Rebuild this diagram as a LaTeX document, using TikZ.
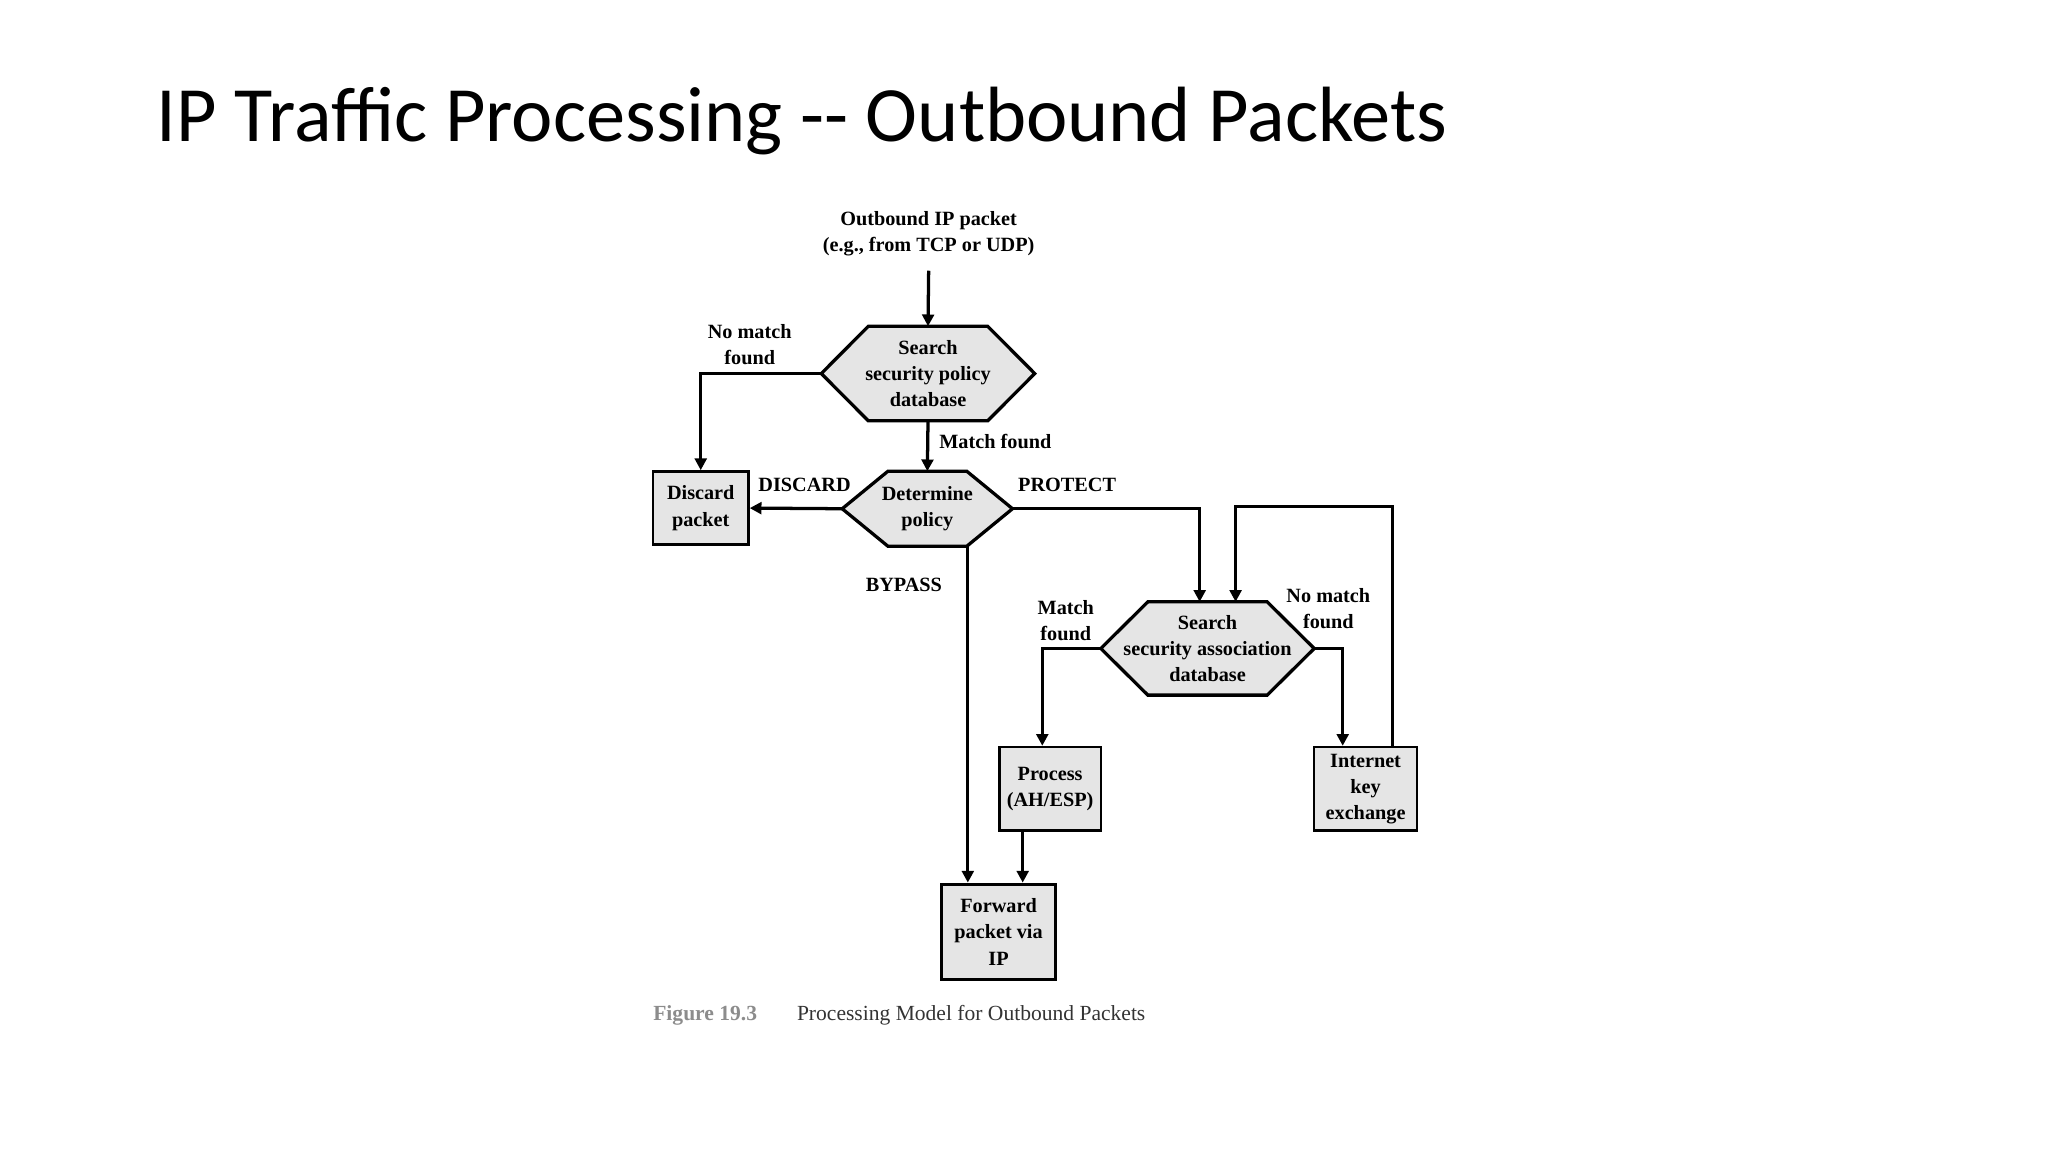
\documentclass[tikz,border=0pt]{standalone}
\usepackage{fontspec}
\setmainfont{Liberation Serif}
\newfontfamily\titlefont{Carlito}
\usetikzlibrary{calc,arrows.meta}
\begin{document}
\begin{tikzpicture}[x=1pt,y=1pt,
  lbl/.style={font=\fontsize{15.5}{20}\selectfont\bfseries,align=center,inner sep=0pt},
  box/.style={draw,line width=2pt,fill=black!10,font=\fontsize{15.5}{20}\selectfont\bfseries,align=center,inner sep=0pt},
  hexn/.style={font=\fontsize{15.5}{20}\selectfont\bfseries,align=center,inner sep=0pt},
  hexl/.style={draw,line width=2.5pt,fill=black!10,line join=miter},
  con/.style={line width=2.5pt,-{Triangle[length=9pt,width=9pt]}},
  seg/.style={line width=2.5pt}]
\useasboundingbox (0,0) rectangle (1568,-882);
\node[anchor=base west,font=\titlefont\fontsize{60}{70}\selectfont,inner sep=0pt] (title) at (120,-108) {IP Traffic Processing -- Outbound Packets};
% input
\node[lbl] (in) at (711,-179) {Outbound IP packet\\(e.g., from TCP or UDP)};
% hexagon helper
\newcommand{\myhex}[2]{%
  \fill[black!10] (#1.west) -- ($(#1.north west)+(#2,0)$) -- ($(#1.north east)+(-#2,0)$) -- (#1.east) -- ($(#1.south east)+(-#2,0)$) -- ($(#1.south west)+(#2,0)$) -- cycle;
  \draw[line width=2.5pt,line join=miter] (#1.west) -- ($(#1.north west)+(#2,0)$) -- ($(#1.north east)+(-#2,0)$) -- (#1.east) -- ($(#1.south east)+(-#2,0)$) -- ($(#1.south west)+(#2,0)$) -- cycle;}
\node[hexn,minimum width=163,minimum height=72] (spd) at (710.5,-286) {};
\myhex{spd}{36}
\node[hexn] at (spd) {Search\\security policy\\database};
\node[hexn,minimum width=130,minimum height=57] (pol) at (710,-389.5) {};
\myhex{pol}{35}
\node[hexn] at (pol) {Determine\\policy};
\node[hexn,minimum width=163,minimum height=71] (sad) at (924.5,-496.5) {};
\myhex{sad}{36}
\node[hexn] at (sad) {Search\\security association\\database};
% boxes
\node[box,minimum width=73,minimum height=56] (disc) at (536.5,-389) {Discard\\packet};
\node[box,minimum width=78,minimum height=64] (proc) at (804,-604) {Process\\(AH/ESP)};
\node[box,minimum width=79,minimum height=64] (ike) at (1045.5,-604) {Internet\\key\\exchange};
\node[box,line width=2.5pt,minimum width=87,minimum height=73] (fwd) at (764.5,-713.5) {Forward\\packet via\\IP};
% connectors
\draw[con] (in.south) ++(0,-11) coordinate (inb) -- (spd.north);
\draw[con] (spd.south) -- (pol.north);
\draw[con] (spd.west) -| (disc.north);
\draw[con] (pol.west) -- (disc.east);
\draw[con] (pol.east) -| ($(sad.north)+(-6,0)$);
\coordinate (bp) at ($(pol.south)+(31,0)$);
\draw[con] (bp) -- (bp |- fwd.north);
\draw[con] (sad.west) -| ($(proc.north)+(-6,0)$);
\draw[con] (sad.east) -| ($(ike.north)+(-17.5,0)$);
\coordinate (ikt) at ($(ike.north)+(20.5,0)$);
\coordinate (top) at ($(ikt)+(0,183)$);
\draw[con] (ikt) -- (top) -| ($(sad.north)+(21.5,0)$);
\draw[con] ($(proc.south)+(-21,0)$) -- ($(fwd.north)+(18.5,0)$);
% labels
\node[lbl] at (574,-264) {No match\\found};
\node[lbl,anchor=west] at (719,-338) {Match found};
\node[lbl] at (616,-371) {DISCARD};
\node[lbl] at (817,-371) {PROTECT};
\node[lbl] at (692,-448) {BYPASS};
\node[lbl] at (816,-475) {Match\\found};
\node[lbl] at (1017,-466) {No match\\found};
% caption
\node[anchor=base west,inner sep=0pt,font=\fontsize{16.5}{20}\selectfont\bfseries,text=black!45] (figno) at (500,-781) {Figure 19.3};
\node[anchor=base west,inner sep=0pt,font=\fontsize{16.5}{20}\selectfont,text=black!80] (cap) at (610,-781) {Processing Model for Outbound Packets};
\end{tikzpicture}
\end{document}
